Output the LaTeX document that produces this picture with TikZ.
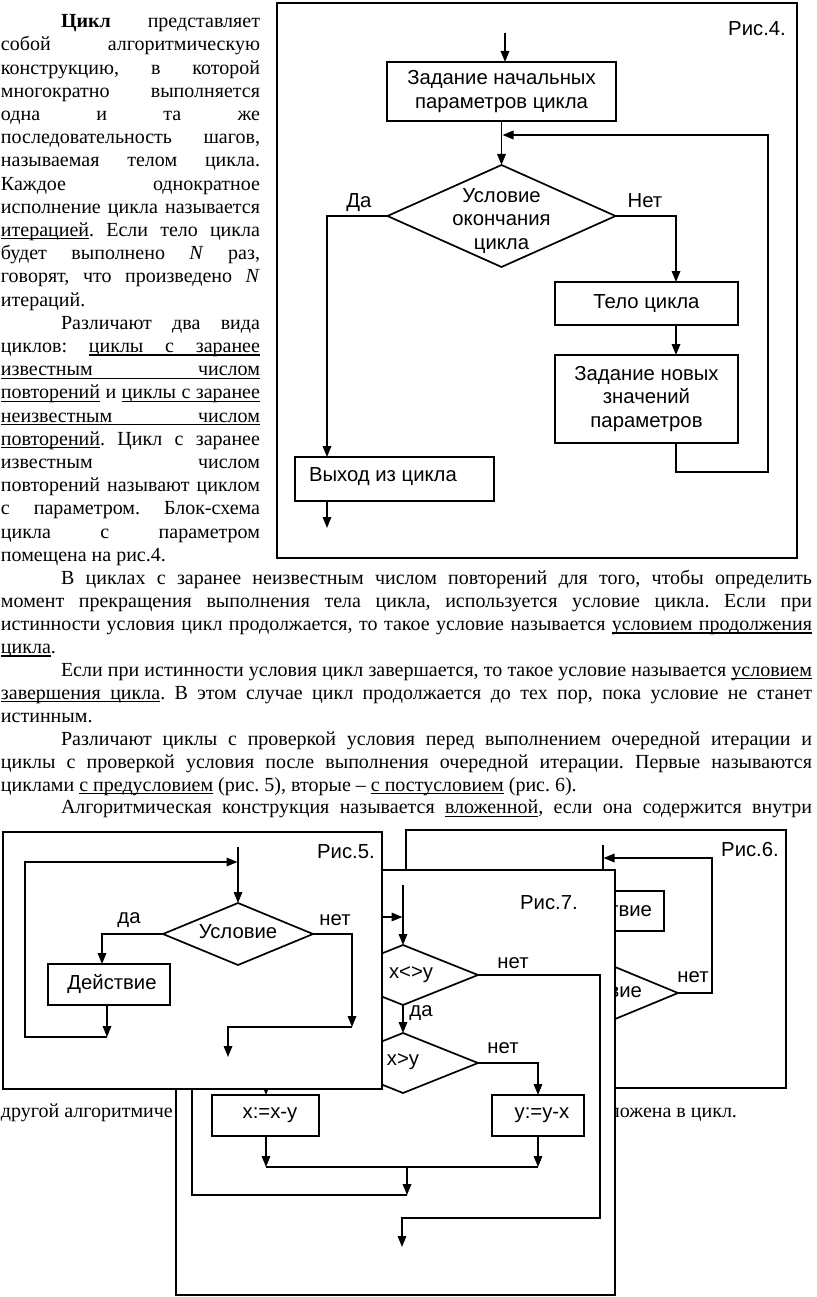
\documentclass[tikz,border=0pt]{standalone}
\usepackage{fontspec}
\setmainfont{Liberation Serif}
\newfontfamily\arialf{Liberation Sans}
\usetikzlibrary{arrows.meta,shapes.geometric,calc}
\frenchspacing
\newcommand\ulw[1]{\setbox0=\hbox{#1}\rlap{\vrule height -1.9pt depth 3pt width \wd0}\box0\relax}
\newcommand\uls{\leaders\hrule height -1.9pt depth 3pt\hskip\fontdimen2\font plus\fontdimen3\font minus\fontdimen4\font\relax}
\newcommand\jline[5]{\node[bodytxt] (#1) at (#2,#3) {\makebox[#4pt][s]{#5}};}
\newcommand\lline[4]{\node[bodytxt] (#1) at (#2,#3) {#4};}
\begin{document}
\begin{tikzpicture}[x=1pt,y=-1pt,line width=1.7pt,
  bodytxt/.style={anchor=base west,inner sep=0,outer sep=0,font=\frenchspacing\fontsize{20}{23}\selectfont},
  figtxt/.style={inner sep=0,outer sep=0,font=\arialf\fontsize{20.3}{23.5}\selectfont,align=center},
  fbox/.style={draw,line width=1.7pt,fill=white,inner sep=0,outer sep=0},
  dbox/.style={draw,diamond,line width=1.7pt,fill=white,inner sep=0,outer sep=0},
  frame/.style={draw,line width=1.9pt,fill=white},
  arr/.style={-{Triangle[length=11pt,width=8.5pt]}}]
\useasboundingbox[fill=white] (0,0) rectangle (816,1297);

% ---------- body text, left column ----------
\jline{L0}{61}{27.7}{199}{\textbf{Цикл} представляет}
\jline{L1}{1}{50.9}{259}{собой алгоритмическую}
\jline{L2}{1}{74.1}{259}{конструкцию, в которой}
\jline{L3}{1}{97.3}{259}{многократно выполняется}
\jline{L4}{1}{120.5}{259}{одна и та же}
\jline{L5}{1}{143.7}{259}{последовательность шагов,}
\jline{L6}{1}{166.9}{259}{называемая телом цикла.}
\jline{L7}{1}{190.1}{259}{Каждое однократное}
\jline{L8}{1}{213.3}{259}{исполнение цикла называется}
\jline{L9}{1}{236.5}{259}{\ulw{итерацией}. Если тело цикла}
\jline{L10}{1}{259.7}{259}{будет выполнено \textit{N} раз,}
\jline{L11}{1}{282.9}{259}{говорят, что произведено \textit{N}}
\lline{L12}{1}{306.1}{итераций.}
\jline{L13}{61}{329.3}{199}{Различают два вида}
\jline{L14}{1}{352.5}{259}{циклов: \ulw{циклы}\uls\ulw{с}\uls\ulw{заранее}}
\jline{L15}{1}{375.7}{259}{\ulw{известным}\uls\ulw{числом}}
\jline{L16}{1}{398.9}{259}{\ulw{повторений} и \ulw{циклы}\uls\ulw{с}\uls\ulw{заранее}}
\jline{L17}{1}{422.1}{259}{\ulw{неизвестным}\uls\ulw{числом}}
\jline{L18}{1}{445.3}{259}{\ulw{повторений}. Цикл с заранее}
\jline{L19}{1}{468.5}{259}{известным числом}
\jline{L20}{1}{491.7}{259}{повторений называют циклом}
\jline{L21}{1}{514.9}{259}{с параметром. Блок-схема}
\jline{L22}{1}{538.1}{259}{цикла с параметром}
\lline{L23}{1}{561.3}{помещена на рис.4.}

% ---------- body text, full width ----------
\jline{M0}{61}{584.5}{751}{В циклах с заранее неизвестным числом повторений для того, чтобы определить}
\jline{M1}{1}{607.5}{811}{момент прекращения выполнения тела цикла, используется условие цикла. Если при}
\jline{M2}{1}{630.5}{811}{истинности условия цикл продолжается, то такое условие называется \ulw{условием}\uls\ulw{продолжения}}
\lline{M3}{1}{653.5}{\ulw{цикла}.}
\jline{M4}{61}{676.3}{751}{Если при истинности условия цикл завершается, то такое условие называется \ulw{условием}}
\jline{M5}{1}{699.2}{811}{\ulw{завершения}\uls\ulw{цикла}. В этом случае цикл продолжается до тех пор, пока условие не станет}
\lline{M6}{1}{722.2}{истинным.}
\jline{M7}{61}{745.1}{751}{Различают циклы с проверкой условия перед выполнением очередной итерации и}
\jline{M8}{1}{768}{811}{циклы с проверкой условия после выполнения очередной итерации. Первые называются}
\lline{M9}{1}{791}{циклами \ulw{с}\uls\ulw{предусловием} (рис. 5), вторые – \ulw{с}\uls\ulw{постусловием} (рис. 6).}
\jline{M10}{61}{813.8}{751}{Алгоритмическая конструкция называется \ulw{вложенной}, если она содержится внутри}
\lline{M11}{1}{1117}{другой алгоритмиче}
\node[bodytxt,anchor=base east] (M12) at (737,1117) {ложена в цикл.};

% ---------- Fig. 4 ----------
\draw[frame] (277,3) rectangle (797,558);
\node[figtxt] (p4) at (757,29) {Рис.4.};
\coordinate (in4) at (505,33);
\node[fbox,figtxt,minimum width=229pt,minimum height=59pt] (b41) at (501.5,91.5) {Задание начальных\\параметров цикла};
\node[dbox,minimum width=228pt,minimum height=102pt] (d4) at (501.5,216) {};
\node[figtxt] (td4) at (501.5,221) {Условие\\окончания\\цикла};
\node[fbox,figtxt,minimum width=183pt,minimum height=43pt] (bt4) at (646.5,303.5) {Тело цикла};
\node[fbox,figtxt,minimum width=183pt,minimum height=88pt] (bn4) at (646.5,399) {Задание новых\\значений\\параметров};
\node[fbox,minimum width=199pt,minimum height=44pt] (bx4) at (394.5,479) {};
\node[figtxt,anchor=west] (tx4) at (309,477) {Выход из цикла};
\node[figtxt] (da4) at (359,203) {Да};
\node[figtxt] (net4) at (645,201) {Нет};
\coordinate (yes4) at (327,216);
\coordinate (no4) at (676,216);
\coordinate (r4) at (768,472);
\coordinate (j4) at (502.5,135);
\coordinate (out4) at (327,528);
\draw[arr] (in4) -- (in4 |- b41.north);
\draw[arr] (b41.south) -- (d4.north);
\draw[arr] (d4.west) -- (yes4) -- (yes4 |- bx4.north);
\draw[arr] (d4.east) -- (no4) -- (no4 |- bt4.north);
\draw[arr] (no4 |- bt4.south) -- (no4 |- bn4.north);
\draw[arr] (no4 |- bn4.south) |- (r4) |- (j4);
\draw[arr] (yes4 |- bx4.south) -- (out4);

% ---------- Fig. 6 (mostly hidden) ----------
\draw[frame] (406,830) rectangle (786,1088);
\node[figtxt] (p6) at (750,850) {Рис.6.};
\coordinate (in6) at (603,845);
\node[fbox,minimum width=122pt,minimum height=40pt] (a6) at (603,911) {};
\node[figtxt,anchor=east] (ta6) at (652,911) {твие};
\node[dbox,minimum width=150pt,minimum height=62pt] (d6) at (603,993) {};
\node[figtxt,anchor=east] (td6) at (642,992) {вие};
\node[figtxt] (n6) at (693,977) {нет};
\coordinate (r6) at (712,993);
\coordinate (j6) at (603.5,858);
\draw[arr] (in6) -- (a6.north);
\draw[arr] (a6.south) -- (d6.north);
\draw[arr] (d6.east) -- (r6) |- (j6);

% ---------- Fig. 7 ----------
\draw[frame] (176,870) rectangle (615,1295);
\node[figtxt] (p7) at (549,903) {Рис.7.};
\coordinate (in7) at (403,885);
\node[dbox,minimum width=150pt,minimum height=60pt] (d7a) at (403,975) {};
\node[figtxt] (td7a) at (411,975) {x<>y};
\node[figtxt] (n7a) at (513,963) {нет};
\node[figtxt] (da7) at (421,1013) {да};
\node[dbox,minimum width=150pt,minimum height=60pt] (d7b) at (403,1063) {};
\node[figtxt] (td7b) at (403,1062) {x>y};
\node[figtxt] (n7b) at (503,1048) {нет};
\node[fbox,minimum width=107pt,minimum height=41pt] (bx7) at (265.5,1115.5) {};
\node[figtxt] (tbx7) at (270,1115) {x:=x-y};
\node[fbox,minimum width=92pt,minimum height=41pt] (by7) at (538,1115.5) {};
\node[figtxt] (tby7) at (542,1115) {y:=y-x};
\coordinate (r7) at (600,975);
\coordinate (q7) at (600,1218);
\coordinate (out7) at (402,1247);
\coordinate (xl7) at (266,1063);
\coordinate (yr7) at (538,1063);
\coordinate (m7) at (407,1167);
\coordinate (lb7) at (192,1195);
\coordinate (j7) at (402.5,917);
\draw[arr] (in7) -- (d7a.north);
\draw[arr] (d7a.south) -- (d7b.north);
\draw[arr] (d7b.east) -- (yr7) -- (by7.north);
\draw[arr] (d7b.west) -- (xl7) -- (xl7 |- bx7.north);
\draw[arr] (xl7 |- bx7.south) -- (xl7 |- m7);
\draw[arr] (by7.south) -- (yr7 |- m7);
\draw (xl7 |- m7) -- (yr7 |- m7);
\draw[arr] (m7) -- (m7 |- lb7);
\draw[arr] (m7 |- lb7) -- (lb7) |- (j7);
\draw[arr] (d7a.east) -- (r7) -- (q7) -| (out7);

% ---------- Fig. 5 ----------
\draw[frame] (3,832) rectangle (382,1089);
\node[figtxt] (p5) at (346,852) {Рис.5.};
\coordinate (in5) at (238,847);
\node[dbox,minimum width=150pt,minimum height=62pt] (d5) at (238,934) {};
\node[figtxt] (td5) at (238,932) {Условие};
\node[figtxt] (da5) at (129,920) {да};
\node[figtxt] (n5) at (335,920) {нет};
\node[fbox,minimum width=122pt,minimum height=41pt] (a5) at (109,984.5) {};
\node[figtxt] (ta5) at (112,984) {Действие};
\coordinate (yl5) at (102,934);
\coordinate (ab5) at (107,1037);
\coordinate (lc5) at (25,1037);
\coordinate (j5) at (237.5,862);
\coordinate (nr5) at (352,934);
\coordinate (nb5) at (352,1027);
\coordinate (out5) at (228,1057);
\draw[arr] (in5) -- (d5.north);
\draw[arr] (d5.west) -- (yl5) -- (yl5 |- a5.north);
\draw[arr] (ab5 |- a5.south) -- (ab5);
\draw[arr] (ab5) -- (lc5) |- (j5);
\draw[arr] (d5.east) -- (nr5) -- (nb5);
\draw[arr] (nb5) -| (out5);
\end{tikzpicture}
\end{document}
